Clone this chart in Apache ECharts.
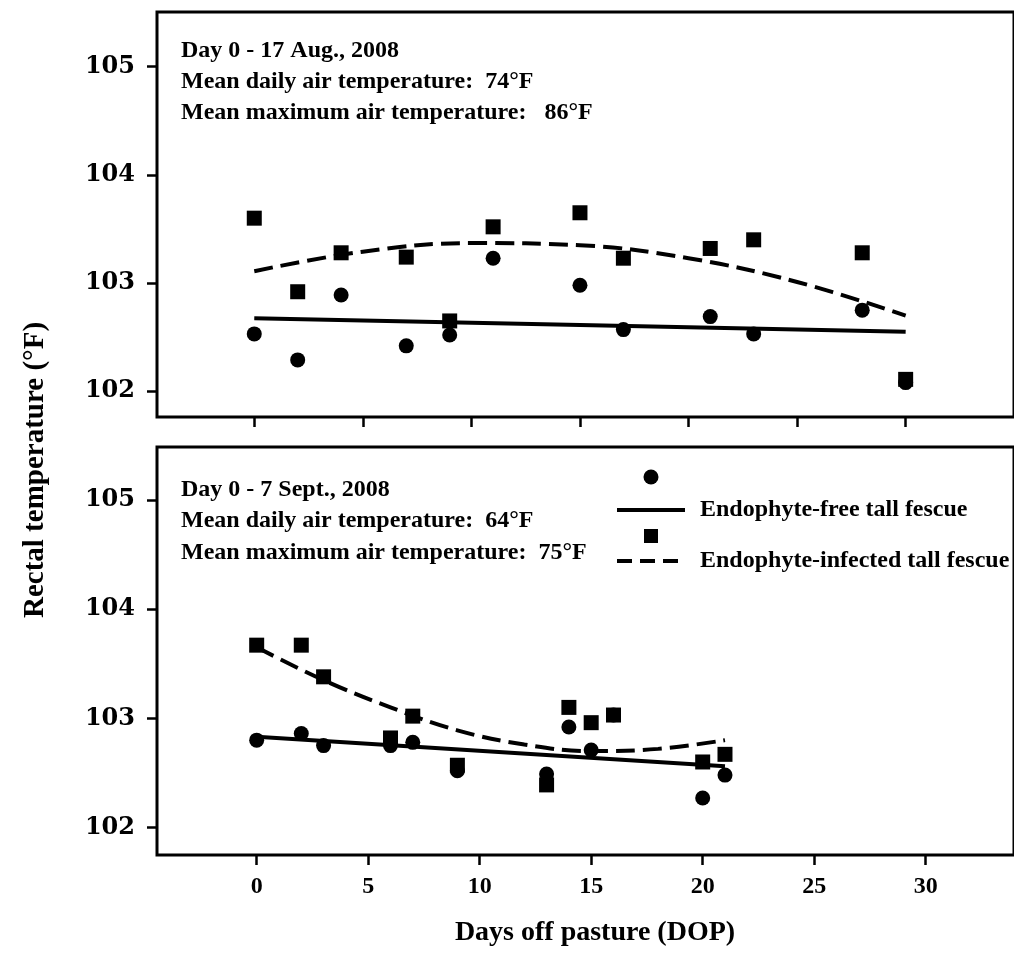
<!DOCTYPE html>
<html>
<head>
<meta charset="utf-8">
<script src="https://cdn.jsdelivr.net/npm/echarts@6.0.0/dist/echarts.min.js"></script>
<style>
  html, body { margin: 0; padding: 0; background: #fff; }
  #chart { width: 1014px; height: 955px; }
</style>
</head>
<body>
<div id="chart"></div>
<script>
// ---- data ----
// top panel: 17 Aug 2008
const topDays = [0, 2, 4, 7, 9, 11, 15, 17, 21, 23, 28, 30];
const topFree = [102.53, 102.29, 102.89, 102.42, 102.52, 103.23, 102.98, 102.57, 102.69, 102.53, 102.75, 102.08];
const topInfected = [103.60, 102.92, 103.28, 103.24, 102.65, 103.52, 103.65, 103.23, 103.32, 103.40, 103.28, 102.11];
// fitted curves
const topFreeFitDays = [0, 30];
const topFreeFit = [102.675, 102.55];
const topInfFitDays = [0, 5, 10, 15, 20, 25, 30];
const topInfFit = [103.11, 103.29, 103.37, 103.35, 103.23, 103.01, 102.70];

// bottom panel: 7 Sept 2008
const botDays = [0, 2, 3, 6, 7, 9, 13, 14, 15, 16, 20, 21];
const botFree = [102.80, 102.86, 102.75, 102.75, 102.78, 102.52, 102.49, 102.92, 102.71, 103.03, 102.27, 102.48];
const botInfected = [103.67, 103.67, 103.38, 102.82, 103.02, 102.57, 102.39, 103.10, 102.96, 103.03, 102.60, 102.67];
const botFreeFitDays = [0, 21];
const botFreeFit = [102.83, 102.56];
const botInfFitDays = [0, 3, 6, 9, 12, 15, 18, 21];
const botInfFit = [103.65, 103.35, 103.10, 102.89, 102.76, 102.70, 102.72, 102.80];

const yTicks = [102, 103, 104, 105];
const xTicks = [0, 5, 10, 15, 20, 25, 30];

const topNotes = ['Day 0 - 17 Aug., 2008', 'Mean daily air temperature:  74\u00B0F', 'Mean maximum air temperature:   86\u00B0F'];
const botNotes = ['Day 0 - 7 Sept., 2008', 'Mean daily air temperature:  64\u00B0F', 'Mean maximum air temperature:  75\u00B0F'];
const legendNames = ['Endophyte-free tall fescue', 'Endophyte-infected tall fescue'];

const SERIF = '"Liberation Serif", "Times New Roman", serif';

function pairs(xs, ys) {
    return xs.map((x, i) => [x, ys[i]]);
}

function xAxisFor(idx, min, max, showLabels) {
    return {
        type: 'value', gridIndex: idx, min: min, max: max,
        axisLine: { show: false, onZero: false },
        splitLine: { show: false },
        axisTick: { show: true, customValues: xTicks, length: 10, lineStyle: { color: '#000', width: 2.5 } },
        axisLabel: {
            show: showLabels, customValues: xTicks, margin: 20,
            color: '#000', fontFamily: SERIF, fontWeight: 'bold', fontSize: 24
        }
    };
}

function yAxisFor(idx, min, max) {
    return {
        type: 'value', gridIndex: idx, min: min, max: max,
        axisLine: { show: false, onZero: false },
        splitLine: { show: false },
        axisTick: { show: true, customValues: yTicks, length: 10, lineStyle: { color: '#000', width: 2.5 } },
        axisLabel: {
            customValues: yTicks, margin: 22,
            color: '#000', fontFamily: '"DejaVu Serif", serif', fontWeight: 'bold', fontSize: 24
        }
    };
}

function scatter(idx, data, symbol) {
    return {
        type: 'scatter', xAxisIndex: idx, yAxisIndex: idx, data: data,
        symbol: symbol, symbolSize: 15,
        itemStyle: { color: '#000', opacity: 1 }, silent: true
    };
}

function fitLine(idx, data, dashed) {
    return {
        type: 'line', xAxisIndex: idx, yAxisIndex: idx, data: data,
        symbol: 'none', smooth: dashed ? 0.4 : false,
        lineStyle: { color: '#000', width: 4, opacity: 1, type: dashed ? [19, 8] : 'solid' },
        silent: true
    };
}

function noteTexts(lines, ys) {
    return lines.map((t, i) => ({
        type: 'text', x: 181, y: ys[i],
        style: { text: t, font: 'bold 24px ' + SERIF, fill: '#000', align: 'left', verticalAlign: 'middle' }
    }));
}

const chart = echarts.init(document.getElementById('chart'), null, { renderer: 'canvas' });

const option = {
    animation: false,
    backgroundColor: '#fff',
    grid: [
        { left: 157, top: 12, width: 857, height: 405, show: true, borderColor: '#000', borderWidth: 3 },
        { left: 157, top: 447, width: 857, height: 408, show: true, borderColor: '#000', borderWidth: 3 }
    ],
    xAxis: [
        xAxisFor(0, -4.48, 34.99, false),
        xAxisFor(1, -4.47, 33.96, true)
    ],
    yAxis: [
        yAxisFor(0, 101.762, 105.506),
        yAxisFor(1, 101.748, 105.485)
    ],
    series: [
        fitLine(0, pairs(topFreeFitDays, topFreeFit), false),
        fitLine(0, pairs(topInfFitDays, topInfFit), true),
        scatter(0, pairs(topDays, topFree), 'circle'),
        scatter(0, pairs(topDays, topInfected), 'rect'),
        fitLine(1, pairs(botFreeFitDays, botFreeFit), false),
        fitLine(1, pairs(botInfFitDays, botInfFit), true),
        scatter(1, pairs(botDays, botFree), 'circle'),
        scatter(1, pairs(botDays, botInfected), 'rect')
    ],
    graphic: [
        ...noteTexts(topNotes, [51, 82, 113]),
        ...noteTexts(botNotes, [490, 521, 553]),
        // legend, bottom panel
        { type: 'circle', shape: { cx: 651, cy: 477, r: 7.5 }, style: { fill: '#000' } },
        { type: 'line', shape: { x1: 617, y1: 510, x2: 685, y2: 510 }, style: { stroke: '#000', lineWidth: 4 } },
        { type: 'text', x: 700, y: 510, style: { text: legendNames[0], font: 'bold 24px ' + SERIF, fill: '#000', verticalAlign: 'middle' } },
        { type: 'rect', shape: { x: 644, y: 529, width: 14, height: 14 }, style: { fill: '#000' } },
        { type: 'line', shape: { x1: 617, y1: 561, x2: 685, y2: 561 }, style: { stroke: '#000', lineWidth: 4, lineDash: [15, 8] } },
        { type: 'text', x: 700, y: 561, style: { text: legendNames[1], font: 'bold 24px ' + SERIF, fill: '#000', verticalAlign: 'middle' } },
        // axis titles
        { type: 'text', x: 595, y: 933, style: { text: 'Days off pasture (DOP)', font: 'bold 28px ' + SERIF, fill: '#000', align: 'center', verticalAlign: 'middle' } },
        { type: 'text', x: 36, y: 470, rotation: Math.PI / 2, style: { text: 'Rectal temperature (\u00B0F)', font: 'bold 29px ' + SERIF, fill: '#000', align: 'center', verticalAlign: 'middle' } }
    ]
};

chart.setOption(option);
</script>
</body>
</html>
